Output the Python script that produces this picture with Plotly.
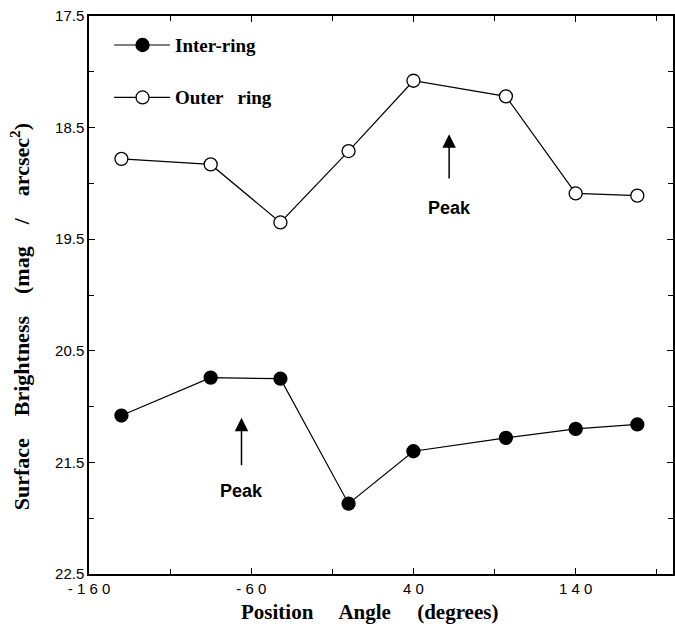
import plotly.graph_objects as go

angles = [-140, -85, -42, 0, 40, 97, 140, 178]
inter_ring = [21.08, 20.74, 20.75, 21.87, 21.40, 21.28, 21.20, 21.16]
outer_ring = [18.78, 18.83, 19.35, 18.71, 18.08, 18.22, 19.09, 19.11]
x_ticks = [-160, -60, 40, 140]
x_tick_text = ["- 1 6 0", "- 6 0", "4 0", "1 4 0"]
y_ticks = [17.5, 18.5, 19.5, 20.5, 21.5, 22.5]

series_names = ["Inter-ring", "Outer   ring"]
series_fill = ["black", "white"]
legend_y = [17.76, 18.23]
legend_x0, legend_xm, legend_x1 = -144.5, -127, -110

peak_x = [62, -66]
peak_tail = [18.97, 21.54]
peak_tip = [18.56, 21.10]
peak_label_y = [19.22, 21.76]

fig = go.Figure()
for ys, fillc, nm in zip([inter_ring, outer_ring], series_fill, series_names):
    fig.add_trace(go.Scatter(
        x=angles, y=ys, mode="lines+markers", name=nm, showlegend=False,
        line=dict(color="black", width=1.2),
        marker=dict(symbol="circle", size=13, color=fillc, line=dict(color="black", width=1.3))))

for ly, fillc, nm in zip(legend_y, series_fill, series_names):
    fig.add_trace(go.Scatter(
        x=[legend_x0, legend_xm, legend_x1], y=[ly, ly, ly], mode="lines", showlegend=False,
        line=dict(color="black", width=1.2), hoverinfo="skip"))
    fig.add_trace(go.Scatter(
        x=[legend_xm], y=[ly], mode="markers", showlegend=False,
        marker=dict(symbol="circle", size=13, color=fillc, line=dict(color="black", width=1.3)),
        hoverinfo="skip"))
    fig.add_annotation(x=legend_x1 + 1.5, y=ly, xref="x", yref="y", xanchor="left", showarrow=False,
                       text=f"<b>{nm}</b>",
                       font=dict(family="Liberation Serif, Times New Roman", size=19, color="black"))

for px, tail, tip, ly in zip(peak_x, peak_tail, peak_tip, peak_label_y):
    fig.add_annotation(x=px, y=tip, ax=px, ay=tail, xref="x", yref="y", axref="x", ayref="y",
                       showarrow=True, arrowhead=2, arrowsize=1.8, arrowwidth=1.5, arrowcolor="black", text="")
    fig.add_annotation(x=px, y=ly, xref="x", yref="y", showarrow=False, text="<b>Peak</b>",
                       font=dict(family="Liberation Sans, Arial", size=18, color="black"))

axis_common = dict(showline=True, linecolor="black", linewidth=1.5, mirror="ticks",
                   ticks="inside", ticklen=6, tickcolor="black", tickwidth=1,
                   showgrid=False, zeroline=False, automargin=False,
                   tickfont=dict(family="Liberation Sans, Arial", size=15, color="black"))

fig.update_xaxes(range=[-160, 200], tickvals=x_ticks, ticktext=x_tick_text,
                 minor=dict(dtick=50, tick0=-160, ticks="inside", ticklen=5, tickcolor="black"),
                 **axis_common)
fig.update_yaxes(range=[22.5, 17.5], tickvals=y_ticks, ticktext=[f"{v:.1f}" for v in y_ticks],
                 minor=dict(dtick=0.5, tick0=17.5, ticks="inside", ticklen=5, tickcolor="black"),
                 **axis_common)

fig.add_annotation(x=0.5, y=0, xref="paper", yref="paper", yshift=-38, xshift=-12,
                   showarrow=False, yanchor="middle",
                   text="<b>Position     Angle     (degrees)</b>",
                   font=dict(family="Liberation Serif, Times New Roman", size=21, color="black"))
fig.add_annotation(x=0, y=0.46, xref="paper", yref="paper", xshift=-69,
                   showarrow=False, textangle=-90, xanchor="center",
                   text="<b>Surface    Brightness    (mag    /    arcsec<sup>2</sup>)</b>",
                   font=dict(family="Liberation Serif, Times New Roman", size=22, color="black"))

fig.update_layout(
    width=675, height=627,
    margin=dict(l=89, r=2, t=16, b=53),
    paper_bgcolor="white", plot_bgcolor="white",
    showlegend=False,
)
fig.write_html(
    "out.html",
    config={"displayModeBar": False},
    post_script="document.body.style.margin='0';document.body.style.overflow='hidden';",
)
